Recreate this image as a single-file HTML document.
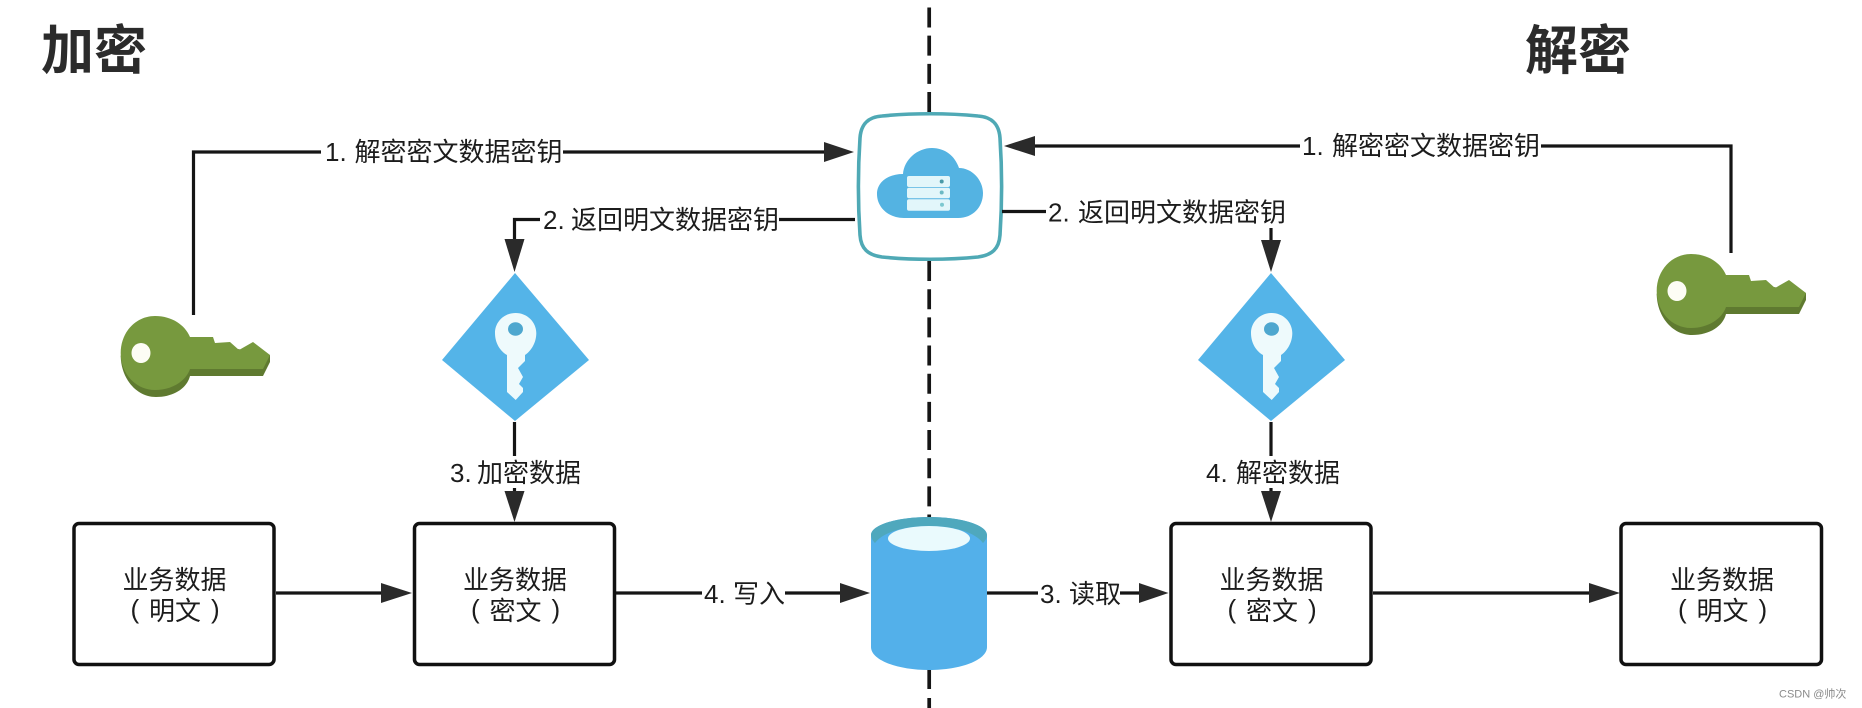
<!DOCTYPE html>
<html><head><meta charset="utf-8">
<style>
html,body{margin:0;padding:0;background:#fff;width:1862px;height:708px;overflow:hidden}
svg{display:block}
text{font-family:"Liberation Sans","Noto Sans CJK SC",sans-serif;fill:#1c1c1c}
.l{font-size:26px}
.t{font-size:53px;font-weight:700;fill:#2b2b2b}
.ln{stroke:#151515;stroke-width:3.2;fill:none}
.ah{fill:#2a2a2a}
.bx{fill:#fff;stroke:#111;stroke-width:3.5}
</style></head><body>
<svg width="1862" height="708" viewBox="0 0 1862 708" xmlns="http://www.w3.org/2000/svg">
<defs>
<g id="gk">
  <path d="M120.7 356 C121 378 136 397 156 397 C174 397 187 388 190 376 L263 376 L270 362 L270 355 L190 340 L125 345Z" fill="#5f7a30"/>
  <path d="M155 316 C172 316 185 325 190 337 L213 337 L215 343 L230 342 L239 350 L253 342 L270 355 L263 369 L190 369 C186 381 172 390 155 390 C136 390 120.7 374 120.7 353 C120.7 332 136 316 155 316Z" fill="#77993e"/>
  <ellipse cx="141" cy="353" rx="9.5" ry="10" fill="#fdfdf5"/>
</g>
<g id="dm">
  <path d="M515 273 L589 360 L515 421 L442 360Z" fill="#54b4e8"/>
  <path d="M515.7 313 C527 313 536.3 322 536.3 333 C536.3 343 531 351 525 355 L525 361 L518 368 L523 377 L519 384 L523 388 L523 392 L515.7 400 L507 392 L507 355 C500 351 495 343 495 333 C495 322 504 313 515.7 313Z" fill="#eefafc"/>
  <ellipse cx="515.5" cy="329" rx="7.5" ry="6.8" fill="#4ea7cf"/>
</g>
<g id="bt">
  <text class="l" text-anchor="middle" x="0" y="0">业务数据</text>
</g>
</defs>

<!-- divider -->
<line x1="929.200" y1="7.500" x2="929.200" y2="540" stroke="#151515" stroke-width="3.7" stroke-dasharray="20 8.170"/>
<line x1="929.200" y1="665" x2="929.200" y2="689" stroke="#151515" stroke-width="3.7"/>
<line x1="929.200" y1="698" x2="929.200" y2="708" stroke="#151515" stroke-width="3.7"/>

<!-- titles -->
<text class="t" x="41" y="69">加密</text>
<text class="t" x="1525" y="69">解密</text>

<!-- cloud box -->
<path d="M882 116 C912 113 948 113 978 116 C992 117 999 124 1000 138 C1002 168 1002 205 1000 235 C999 249 992 255 978 257 C948 260 912 260 882 257 C868 255 861 249 860 235 C858 205 858 168 860 138 C861 124 868 117 882 116Z" fill="#fff" stroke="#4fa9b5" stroke-width="3.6"/>
<path d="M904 218 C888 218 877 207 877 194 C877 182 888 174 903 174 C904 160 917 148 932 148 C945 148 955 156 959 168 C972 168 983 180 983 193 C983 207 973 218 958 218Z" fill="#54b3e2"/>
<rect x="907" y="176" width="43" height="11" rx="2" fill="#e2f6fa"/>
<rect x="907" y="187.800" width="43" height="10.500" rx="2" fill="#e2f6fa"/>
<rect x="907" y="199.300" width="43" height="11.500" rx="2" fill="#e2f6fa"/>
<circle cx="941.700" cy="181.500" r="2" fill="#4a9aa8"/>
<circle cx="941.700" cy="192.500" r="2" fill="#6bb9c4"/>
<circle cx="942" cy="204.700" r="2" fill="#7cc8d0"/>

<!-- keys -->
<use href="#gk"/>
<use href="#gk" transform="translate(1536,-62)"/>
<!-- diamonds -->
<use href="#dm"/>
<use href="#dm" transform="translate(756,0)"/>

<!-- connectors top-left -->
<path class="ln" d="M193.500 315 V152 H321"/>
<path class="ln" d="M563 152 H826"/>
<path class="ah" d="M824 142 L854 152 L824 162Z"/>
<text class="l" x="325" y="161">1.<tspan x="354.500">解密密文数据密钥</tspan></text>

<path class="ln" d="M855 219.500 H779"/>
<path class="ln" d="M540 219.500 H514.500 V241"/>
<path class="ah" d="M504.500 239 L524.500 239 L514.500 272Z"/>
<text class="l" x="543" y="229">2.<tspan x="571">返回明文数据密钥</tspan></text>

<!-- connectors top-right -->
<path class="ln" d="M1731 253 V146 H1541"/>
<path class="ln" d="M1300 146 H1033"/>
<path class="ah" d="M1035 136 L1004 146 L1035 156Z"/>
<text class="l" x="1302" y="155">1.<tspan x="1332">解密密文数据密钥</tspan></text>

<path class="ln" d="M1002 211.500 H1046"/>
<path class="ln" d="M1271 228 V242"/>
<path class="ah" d="M1261 240 L1281 240 L1271 272Z"/>
<text class="l" x="1048" y="221.500">2.<tspan x="1078">返回明文数据密钥</tspan></text>

<!-- vertical connectors -->
<path class="ln" d="M514.500 422 V456 M514.500 488 V493"/>
<path class="ah" d="M504.500 491 L524.500 491 L514.500 522Z"/>
<text class="l" x="450" y="482">3.<tspan x="477">加密数据</tspan></text>

<path class="ln" d="M1271 422 V456 M1271 488 V493"/>
<path class="ah" d="M1261 491 L1281 491 L1271 522Z"/>
<text class="l" x="1206" y="482">4.<tspan x="1236">解密数据</tspan></text>

<!-- boxes -->
<rect class="bx" x="74" y="523.500" width="200" height="141" rx="5"/>
<rect class="bx" x="414.500" y="523.500" width="200" height="141" rx="5"/>
<rect class="bx" x="1171" y="523.500" width="200" height="141" rx="5"/>
<rect class="bx" x="1621" y="523.500" width="200.500" height="141" rx="5"/>

<use href="#bt" x="174.500" y="589"/>
<use href="#bt" x="515" y="589"/>
<use href="#bt" x="1271.500" y="589"/>
<use href="#bt" x="1722" y="589"/>
<text class="l" y="620"><tspan x="130.500" dy="-2">(</tspan><tspan x="149" dy="2">明文</tspan><tspan x="211" dy="-2">)</tspan></text>
<text class="l" y="620"><tspan x="471" dy="-2">(</tspan><tspan x="489.500" dy="2">密文</tspan><tspan x="551.500" dy="-2">)</tspan></text>
<text class="l" y="620"><tspan x="1227.500" dy="-2">(</tspan><tspan x="1246" dy="2">密文</tspan><tspan x="1308" dy="-2">)</tspan></text>
<text class="l" y="620"><tspan x="1678" dy="-2">(</tspan><tspan x="1696.500" dy="2">明文</tspan><tspan x="1758.500" dy="-2">)</tspan></text>

<!-- cylinder -->
<path d="M871 535 V647 C871 660 897 670 929 670 C961 670 987 660 987 647 V535 Z" fill="#53b0ea"/>
<ellipse cx="929" cy="535" rx="58" ry="18" fill="#53b0ea"/>
<path d="M871 535 C871 525 897 517 929 517 C961 517 987 525 987 535 C987 538 985 541 983 543 C975 532 953 526 929 526 C905 526 883 532 875 543 C873 541 871 538 871 535Z" fill="#4fa8bd"/>
<ellipse cx="929" cy="538.500" rx="41" ry="12.500" fill="#eafafd"/>

<!-- horizontal bottom connectors -->
<path class="ln" d="M276 593 H383"/>
<path class="ah" d="M381 583 L412 593 L381 603Z"/>

<path class="ln" d="M616 593 H702 M785 593 H842"/>
<path class="ah" d="M840 583 L870 593 L840 603Z"/>
<text class="l" x="704" y="603">4.<tspan x="733">写入</tspan></text>

<path class="ln" d="M987 593 H1038 M1120 593 H1141"/>
<path class="ah" d="M1139 583 L1168.500 593 L1139 603Z"/>
<text class="l" x="1040" y="603">3.<tspan x="1069">读取</tspan></text>

<path class="ln" d="M1373 593 H1591"/>
<path class="ah" d="M1589 583 L1620 593 L1589 603Z"/>

<text x="1779" y="697.500" style="font-size:11px;fill:#8a8a8a">CSDN @帅次</text>
</svg>
</body></html>
